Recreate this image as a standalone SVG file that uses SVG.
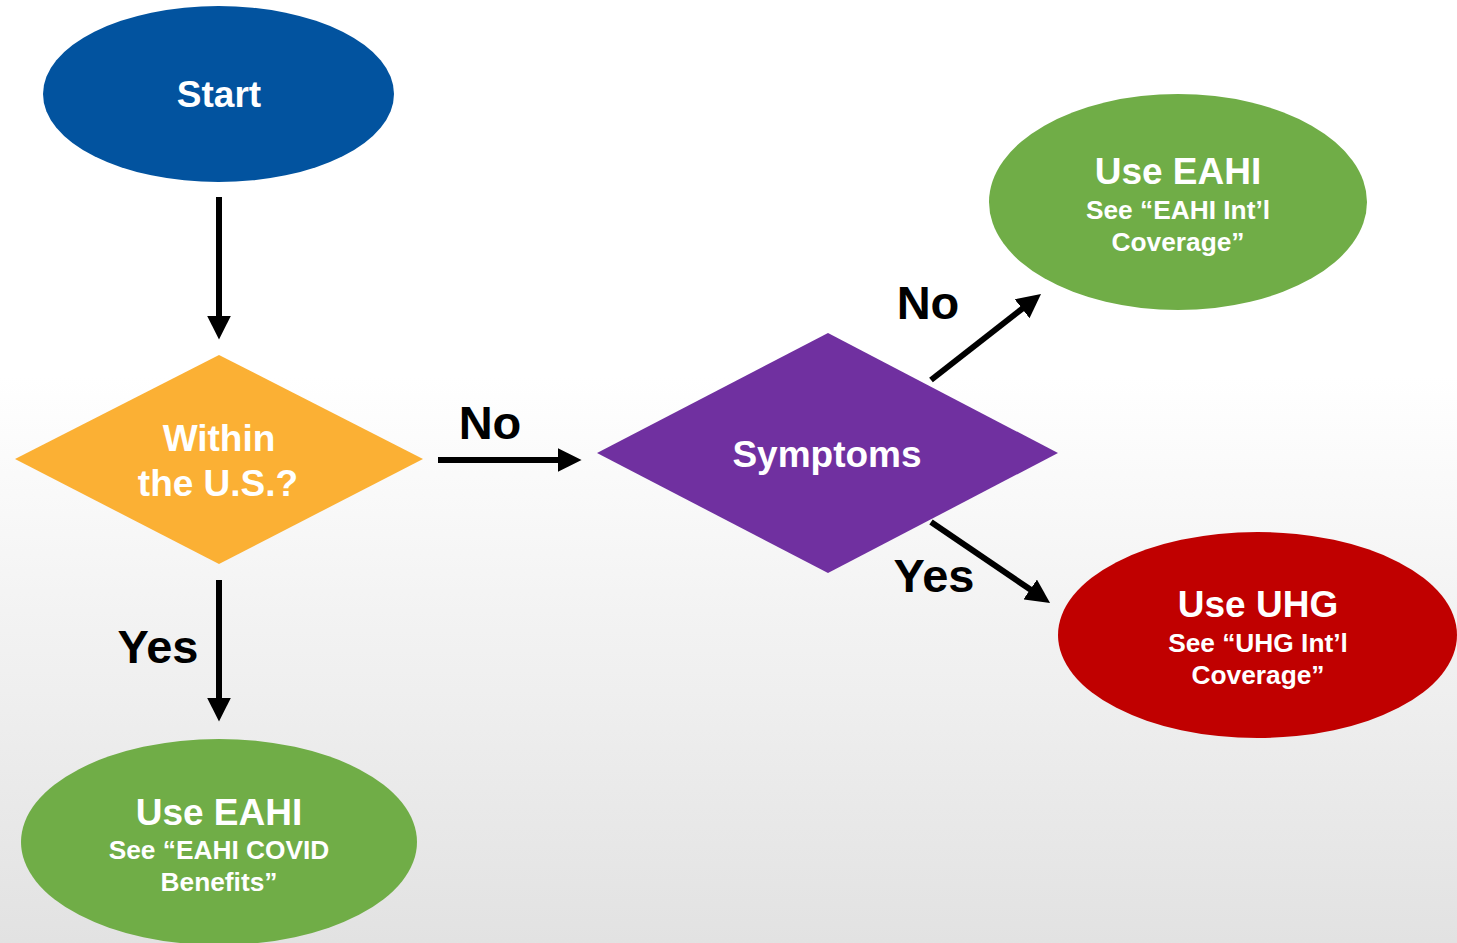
<svg xmlns="http://www.w3.org/2000/svg" width="1457" height="943" viewBox="0 0 1457 943">
  <defs>
    <linearGradient id="bg" x1="0" y1="0" x2="0" y2="1">
      <stop offset="0" stop-color="#FFFFFF"/>
      <stop offset="0.4" stop-color="#FFFFFF"/>
      <stop offset="1" stop-color="#E2E2E2"/>
    </linearGradient>
    <marker id="arrow" viewBox="0 0 10 10" refX="1" refY="5" markerWidth="4" markerHeight="4" orient="auto" markerUnits="strokeWidth">
      <path d="M0,0 L10,5 L0,10 z" fill="#000000"/>
    </marker>
    <style>
      .conn { stroke: #000000; stroke-width: 6; fill: none; marker-end: url(#arrow); }
      .t { font-family: "Liberation Sans", Arial, sans-serif; font-weight: bold; text-anchor: middle; fill: #FFFFFF; }
      .h { font-size: 37px; }
      .s { font-size: 26.3px; }
      .lbl { font-family: "Liberation Sans", Arial, sans-serif; font-weight: bold; text-anchor: middle; fill: #000000; font-size: 47px; }
    </style>
  </defs>
  <rect x="0" y="0" width="1457" height="943" fill="url(#bg)"/>

  <g id="connectors">
    <line class="conn" x1="219" y1="197" x2="219" y2="318"/>
    <line class="conn" x1="438" y1="460" x2="560" y2="460"/>
    <line class="conn" x1="219" y1="580" x2="219" y2="700"/>
    <line class="conn" x1="931" y1="380" x2="1024" y2="307.3"/>
    <line class="conn" x1="931" y1="522" x2="1032.2" y2="590.8"/>
    <text class="lbl" x="490" y="439">No</text>
    <text class="lbl" x="158" y="663">Yes</text>
    <text class="lbl" x="928" y="319">No</text>
    <text class="lbl" x="934" y="592">Yes</text>
  </g>

  <g id="start">
    <ellipse cx="218.5" cy="94" rx="175.5" ry="88" fill="#02539F"/>
    <text class="t h" x="219" y="107">Start</text>
  </g>

  <g id="within-us">
    <polygon points="15,459 219,355 423,459 219,564" fill="#FBB034"/>
    <text class="t h" x="219" y="451">Within</text>
    <text class="t h" x="218" y="496">the U.S.?</text>
  </g>

  <g id="symptoms">
    <polygon points="597,453 828,333 1058,453 828,573" fill="#7030A0"/>
    <text class="t h" x="827" y="467">Symptoms</text>
  </g>

  <g id="use-eahi-intl">
    <ellipse cx="1178" cy="202" rx="189" ry="108" fill="#70AD47"/>
    <text class="t h" x="1178" y="184">Use EAHI</text>
    <text class="t s" x="1178" y="219">See “EAHI Int’l</text>
    <text class="t s" x="1178" y="251">Coverage”</text>
  </g>

  <g id="use-uhg">
    <ellipse cx="1257.5" cy="635" rx="199.5" ry="103" fill="#C00000"/>
    <text class="t h" x="1258" y="617">Use UHG</text>
    <text class="t s" x="1258" y="652">See “UHG Int’l</text>
    <text class="t s" x="1258" y="684">Coverage”</text>
  </g>

  <g id="use-eahi-covid">
    <ellipse cx="219" cy="842" rx="198" ry="103" fill="#70AD47"/>
    <text class="t h" x="219" y="825">Use EAHI</text>
    <text class="t s" x="219" y="859">See “EAHI COVID</text>
    <text class="t s" x="219" y="891">Benefits”</text>
  </g>
</svg>
